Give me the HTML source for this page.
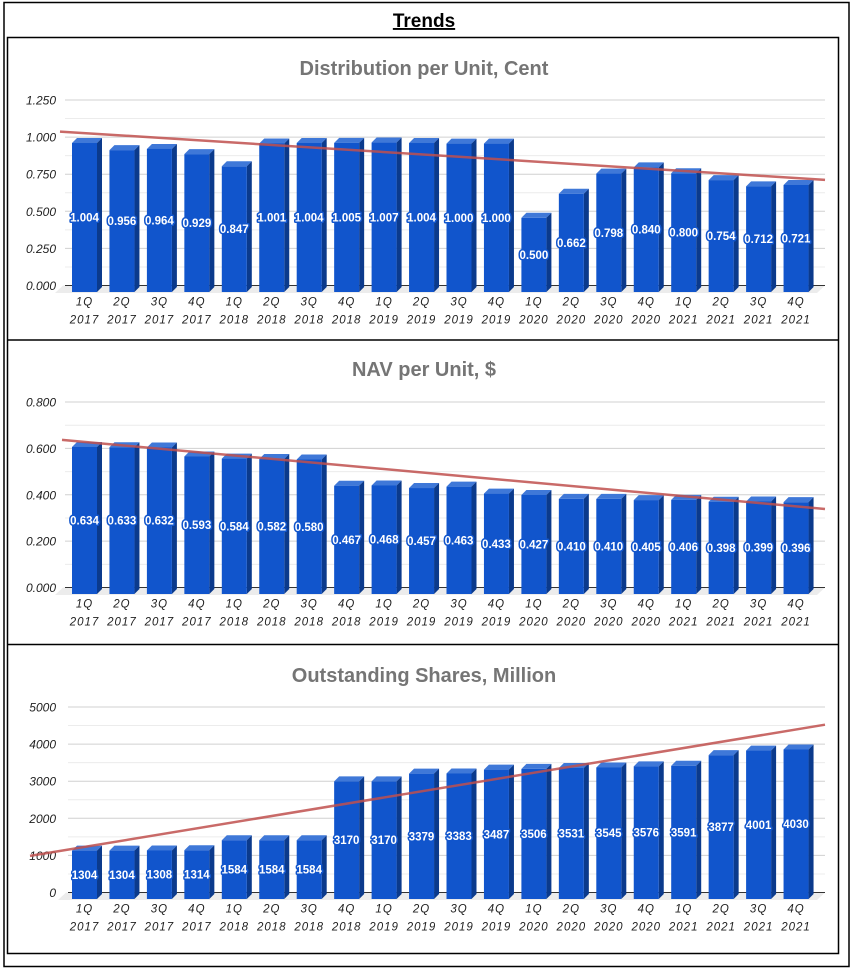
<!DOCTYPE html>
<html><head><meta charset="utf-8">
<style>
body{margin:0;background:#fff;width:852px;height:972px;overflow:hidden;font-family:"Liberation Sans",sans-serif;}
svg{display:block}
</style></head>
<body>
<svg id="root" width="852" height="972" viewBox="0 0 852 972" xmlns="http://www.w3.org/2000/svg">
  <rect x="4" y="2.5" width="845" height="964" fill="none" stroke="#000" stroke-width="1.5"/>
  <text x="424" y="27" text-anchor="middle" font-size="19" font-weight="bold" text-decoration="underline">Trends</text>
  <rect x="7.5" y="37.5" width="831" height="916" fill="none" stroke="#000" stroke-width="1.5"/>
  <line x1="7.5" y1="340" x2="838.5" y2="340" stroke="#000" stroke-width="1.5"/>
  <line x1="7.5" y1="644.5" x2="838.5" y2="644.5" stroke="#000" stroke-width="1.5"/>
  <g id="charts"></g>
</svg>
<script>
const categories = ["1Q 2017","2Q 2017","3Q 2017","4Q 2017","1Q 2018","2Q 2018","3Q 2018","4Q 2018","1Q 2019","2Q 2019","3Q 2019","4Q 2019","1Q 2020","2Q 2020","3Q 2020","4Q 2020","1Q 2021","2Q 2021","3Q 2021","4Q 2021"];
const distValues = [1.004,0.956,0.964,0.929,0.847,1.001,1.004,1.005,1.007,1.004,1.000,1.000,0.500,0.662,0.798,0.840,0.800,0.754,0.712,0.721];
const navValues = [0.634,0.633,0.632,0.593,0.584,0.582,0.580,0.467,0.468,0.457,0.463,0.433,0.427,0.410,0.410,0.405,0.406,0.398,0.399,0.396];
const shareValues = [1304,1304,1308,1314,1584,1584,1584,3170,3170,3379,3383,3487,3506,3531,3545,3576,3591,3877,4001,4030];
const distTicks = [0,0.25,0.5,0.75,1.0,1.25];
const navTicks = [0,0.2,0.4,0.6,0.8];
const shareTicks = [0,1000,2000,3000,4000,5000];

const NS="http://www.w3.org/2000/svg";
const root=document.getElementById('charts');
function mk(tag,attrs,parent){const e=document.createElementNS(NS,tag);for(const k in attrs)e.setAttribute(k,attrs[k]);(parent||root).appendChild(e);return e;}

function drawChart(cfg){
  const g=mk('g',{});
  
  
  const axisTop=cfg.axisTop, axisBot=cfg.axisBot, max=cfg.ticks[cfg.ticks.length-1];
  const H=axisBot-axisTop;
  const yBack=v=>axisBot-v/max*H;
  const base=axisBot+6.5;
  const yFront=v=>base-v/max*H;
  const xC=i=>84.5+i*37.45;
  const bw=25, dx=5, dy=5;
  const t=mk('text',{x:424,y:cfg.titleY,'text-anchor':'middle','font-size':20,'font-weight':'bold',fill:'#757575'},g);
  t.textContent=cfg.title;
  
  
  const step=cfg.ticks[1]-cfg.ticks[0];
  for(let k=0;k<cfg.ticks.length*2-1;k++){
    const v=k*step/2;
    const y=yBack(v);
    const ln=mk('line',{x1:cfg.gx,x2:825,y1:y,y2:y,stroke:k===0?'#333':(k%2? '#ececec':'#d0d0d0'),'stroke-width':1},g);
    
    
  }
  cfg.ticks.forEach(v=>{
    const tx=mk('text',{x:56,y:yBack(v)+4.5,'text-anchor':'end','font-size':12,'font-style':'italic',fill:'#222'},g);
    tx.textContent=cfg.fmt(v);
    
    
  });
  const fl=mk('polygon',{points:`${cfg.gx-10},${base+1} ${cfg.gx-2},${axisBot} 825,${axisBot} 817,${base+1}`,fill:'#ececec'},g);
  
  
  const axl=mk('line',{x1:cfg.gx,x2:825,y1:axisBot,y2:axisBot,stroke:'#333','stroke-width':1},g);
  
  
  cfg.values.forEach((v,i)=>{
    const x0=xC(i)-bw/2, yt=yFront(v);
    const bg=mk('g',{},g);
    
    
    mk('polygon',{points:`${x0},${yt} ${x0+dx},${yt-dy} ${x0+bw+dx},${yt-dy} ${x0+bw},${yt}`,fill:'#3f78d8'},bg);
    mk('polygon',{points:`${x0+bw},${yt} ${x0+bw+dx},${yt-dy} ${x0+bw+dx},${base-dy} ${x0+bw},${base}`,fill:'#0b3a8c'},bg);
    mk('rect',{x:x0,y:yt,width:bw,height:base-yt,fill:'#1155cc'},bg);
    const lb=mk('text',{x:xC(i),y:(yt+base)/2+4,'text-anchor':'middle','font-size':11.5,'font-weight':'bold',fill:'#fff',stroke:'#1155cc','stroke-width':3,'paint-order':'stroke','stroke-linejoin':'round'},g);
    lb.textContent=cfg.fmt(v);
    
    
    const c=categories[i].split(' ');
    const l1=mk('text',{x:xC(i),y:axisBot+20,'text-anchor':'middle','font-size':11.5,'font-style':'italic',fill:'#222','letter-spacing':'1'},g);
    l1.textContent=c[0];
    
    
    const l2=mk('text',{x:xC(i),y:axisBot+38,'text-anchor':'middle','font-size':11.5,'font-style':'italic',fill:'#222','letter-spacing':'1'},g);
    l2.textContent=c[1];
    
    
  });
  const n=cfg.values.length;let sx=0,sy=0,sxx=0,sxy=0;
  cfg.values.forEach((v,i)=>{sx+=i;sy+=v;sxx+=i*i;sxy+=i*v;});
  const m=(n*sxy-sx*sy)/(n*sxx-sx*sx), b=(sy-m*sx)/n;
  const iAt=x=>(x-84.5)/37.45;
  const tl=mk('line',{x1:cfg.tx0,y1:yBack(m*iAt(cfg.tx0)+b),x2:825,y2:yBack(m*iAt(825)+b),stroke:'#c0504d','stroke-width':2.5,'stroke-opacity':0.85},g);
  
  
}

drawChart({name:'distribution-chart',title:'Distribution per Unit, Cent',titleY:75,axisTop:100,axisBot:285.5,ticks:distTicks,values:distValues,fmt:v=>v.toFixed(3),gx:65,tx0:60});
drawChart({name:'nav-chart',title:'NAV per Unit, $',titleY:376,axisTop:402,axisBot:587.5,ticks:navTicks,values:navValues,fmt:v=>v.toFixed(3),gx:65,tx0:62});
drawChart({name:'shares-chart',title:'Outstanding Shares, Million',titleY:682,axisTop:707,axisBot:892.5,ticks:shareTicks,values:shareValues,fmt:v=>String(v),gx:68,tx0:30});
</script>
</body></html>
